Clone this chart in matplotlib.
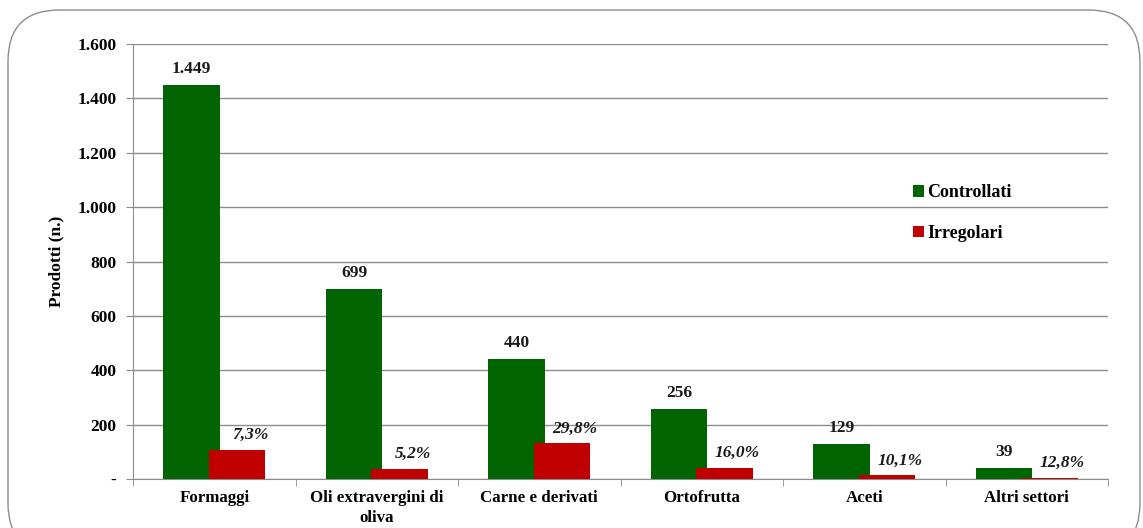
import matplotlib
matplotlib.use("Agg")
import matplotlib.pyplot as plt
from matplotlib.patches import FancyBboxPatch
from matplotlib.ticker import FixedLocator
import numpy as np

categories = ["Formaggi", "Oli extravergini di\noliva", "Carne e derivati", "Ortofrutta", "Aceti", "Altri settori"]
controllati = [1449, 699, 440, 256, 129, 39]
irregolari = [106, 36, 131, 41, 13, 5]
controllati_labels = ["1.449", "699", "440", "256", "129", "39"]
irregolari_labels = ["7,3%", "5,2%", "29,8%", "16,0%", "10,1%", "12,8%"]
yticks = [0, 200, 400, 600, 800, 1000, 1200, 1400, 1600]
ytick_labels = ["-", "200", "400", "600", "800", "1.000", "1.200", "1.400", "1.600"]

plt.rcParams['font.family'] = ['Liberation Serif', 'DejaVu Serif']

fig = plt.figure(figsize=(11.43, 5.28), dpi=100)
W, H = 1143, 528
border = FancyBboxPatch((8 / W, -0.05), 1132 / W, (518 / H) + 0.05,
                        boxstyle="round,pad=0,rounding_size=0.045",
                        transform=fig.transFigure, fill=False, edgecolor="#8c8c8c", linewidth=1.0,
                        mutation_aspect=W / H)
fig.patches.append(border)

ax = fig.add_axes([133 / W, 1 - 479 / H, (1108 - 133) / W, (479 - 44) / H])
x = np.arange(len(categories))
bw = 0.35
off = 0.14
green = "#006400"
red = "#c00000"
ax.bar(x - off, controllati, bw, color=green, zorder=2, label="Controllati")
ax.bar(x + off, irregolari, bw, color=red, zorder=3, label="Irregolari")

for i in range(len(categories)):
    ax.annotate(controllati_labels[i], (x[i] - off, controllati[i]), xytext=(0, 6),
                textcoords="offset points", ha="center", va="bottom",
                fontsize=12.5, fontweight="bold", color="#1a1a1a")
    ax.annotate(irregolari_labels[i], (x[i] + off + 0.08, irregolari[i]), xytext=(0, 5),
                textcoords="offset points", ha="center", va="bottom",
                fontsize=12.5, fontweight="bold", fontstyle="italic", color="#1a1a1a")

ax.set_xlim(-0.5, len(categories) - 0.5)
ax.set_ylim(0, 1600)
ax.set_yticks(yticks)
ax.set_yticklabels(ytick_labels, fontsize=12.5, fontweight="bold")
ax.set_xticks(x)
ax.set_xticklabels(categories, fontsize=12.2, fontweight="bold", linespacing=1.3)
ax.tick_params(axis="x", length=0, pad=8)
ax.xaxis.set_minor_locator(FixedLocator(np.arange(-0.5, len(categories), 1.0)))
ax.tick_params(axis="x", which="minor", length=5, color="#8c8c8c", direction="out")
ax.tick_params(axis="y", length=5, color="#8c8c8c", direction="out", pad=7)
ax.grid(axis="y", color="#8c8c8c", linewidth=1.0, zorder=0)
ax.set_axisbelow(True)
for s in ["top", "right"]:
    ax.spines[s].set_visible(False)
ax.spines["left"].set_color("#8c8c8c")
ax.spines["bottom"].set_color("#8c8c8c")
ax.set_ylabel("Prodotti (n.)", fontsize=12.5, fontweight="bold", labelpad=9)

leg = ax.legend(loc="upper left", bbox_to_anchor=(0.783, 0.715), frameon=False,
                handlelength=0.6, handleheight=0.6, handletextpad=0.2,
                labelspacing=1.3, prop={'weight': 'bold', 'size': 13})

fig.savefig("out.png", dpi=100)
